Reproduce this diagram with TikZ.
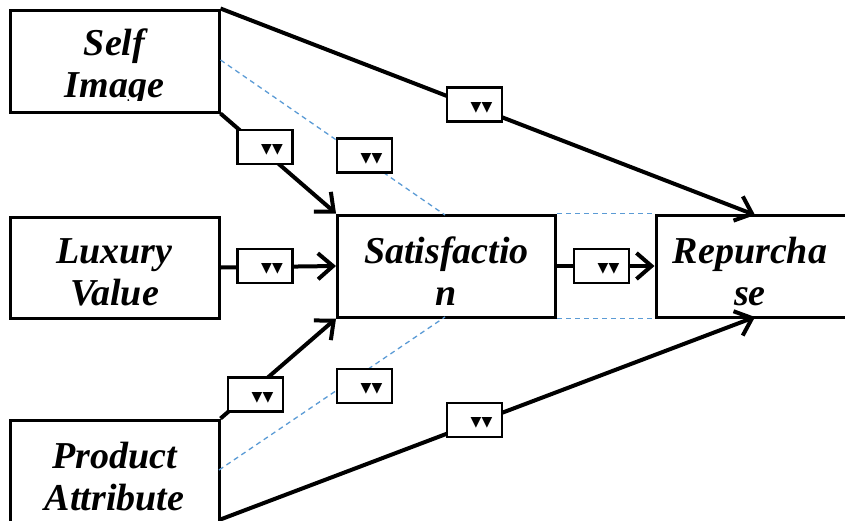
\documentclass[tikz,border=0pt]{standalone}
\usepackage{fontspec}
\setmainfont{Liberation Serif}
\newfontfamily\dvfont{DejaVu Sans}
\usetikzlibrary{arrows.meta}
\tikzset{
  bigbox/.style={draw=black,line width=3pt,fill=white,rectangle,inner sep=0pt},
  lbl/.style={font=\fontsize{38}{42}\selectfont\bfseries\itshape,align=center,inner sep=0pt},
  coef/.style={draw=black,line width=2.4pt,fill=white,rectangle,inner sep=0pt,minimum width=55pt,minimum height=34pt},
  mk/.style={font=\dvfont\fontsize{14}{14}\selectfont,inner sep=0pt},
  path/.style={line width=4pt,-{Straight Barb[length=15pt,width=26pt,line width=4pt]}},
  cov/.style={draw={rgb,255:red,91;green,155;blue,213},line width=1.3pt,dash pattern=on 5pt off 4pt}
}
\begin{document}
\begin{tikzpicture}[x=1pt,y=-1pt]
\useasboundingbox (0,0) rectangle (845,520);
\clip (0,0) rectangle (845,520);
% boxes
\node[bigbox,minimum width=209pt,minimum height=102pt] (self) at (114.5,61) {};
\node[bigbox,minimum width=209pt,minimum height=101pt] (lux) at (114.5,267.5) {};
\node[bigbox,minimum width=209pt,minimum height=104pt] (prod) at (114.5,472) {};
\node[bigbox,minimum width=218pt,minimum height=102pt] (sat) at (446.5,266) {};
\node[bigbox,minimum width=210pt,minimum height=102pt] (rep) at (761,266) {};
% coordinates
\coordinate (selfTR) at (self.north east);
\coordinate (selfBR) at (self.south east);
\coordinate (selfR) at ([yshift=1pt]self.east);
\coordinate (prodTR) at (prod.north east);
\coordinate (prodBR) at (219,520);
\coordinate (prodR) at (219,470);
\coordinate (satTL) at (sat.north west);
\coordinate (satBL) at (sat.south west);
\coordinate (satT) at (445,215);
\coordinate (satB) at (445,317);
\coordinate (repT) at (755,215);
\coordinate (repB) at (755,317);
% dashed lines
\draw[cov] (selfR) -- (satT);
\draw[cov] (prodR) -- (satB);
\draw[cov] (sat.north east) -- (rep.north west);
\draw[cov] (sat.south east) -- (rep.south west);
% paths
\draw[path] (selfBR) -- (satTL);
\draw[path] (selfTR) -- (repT);
\draw[path] (lux.east) -- (sat.west);
\draw[path] (sat.east) -- (rep.west);
\draw[path] (prodTR) -- (satBL);
\draw[path] (prodBR) -- (repB);
% coefficient boxes
\node[coef] (c1) at (265,147) {};
\node[coef] (c2) at (364.5,155.5) {};
\node[coef] (c3) at (474.5,104.5) {};
\node[coef] (c4) at (265,266) {};
\node[coef] (c5) at (601.5,266) {};
\node[coef] (c6) at (255.5,394.5) {};
\node[coef] (c7) at (364.5,386) {};
\node[coef] (c8) at (474.5,420) {};
\foreach \c in {c1,c2,c3,c4,c5,c6,c7,c8}{
  \node[mk] (m\c) at ([xshift=7pt,yshift=-3pt]\c.center) {▼▼};
}
% labels
\begin{scope}
\clip (10,10) rectangle (219,100);
\node[lbl] (tself) at (114.5,67) {Self\\Image};
\end{scope}
\node[lbl] (tlux) at (114.5,272) {Luxury\\Value};
\node[lbl] (tsat) at (446.5,271) {Satisfactio\\n};
\node[lbl] (trep) at (750,271) {Repurcha\\se};
\begin{scope}
\clip (10,420) rectangle (219,520);
\node[lbl] (tprod) at (114.5,477) {Product\\Attribute};
\end{scope}
\end{tikzpicture}
\end{document}
